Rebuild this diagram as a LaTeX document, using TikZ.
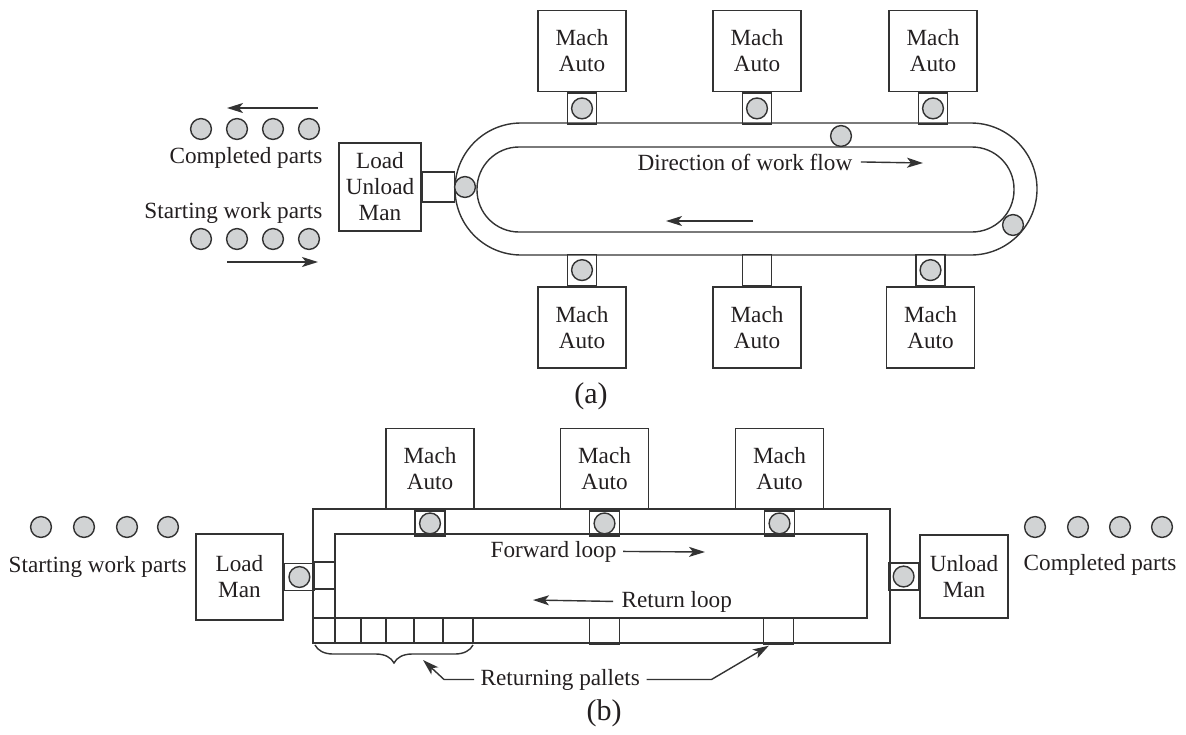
\documentclass[tikz,border=0pt]{standalone}
\usepackage{fontspec}
\setmainfont{Liberation Serif}
\usepackage{xcolor}
\usetikzlibrary{arrows.meta,positioning,decorations.pathreplacing}
\definecolor{ink}{HTML}{333333}
\definecolor{txt}{HTML}{231F20}
\definecolor{partgray}{HTML}{D1D3D4}

\begin{document}
\begin{tikzpicture}[
  x=0.5pt,y=-0.5pt,
  line width=0.7pt,color=ink,
  every node/.style={font=\fontsize{11.6}{13}\selectfont,text=txt},
  mach/.style={draw=ink,minimum width=44pt,minimum height=40.5pt,align=center,inner sep=0pt},
  man/.style={draw=ink,minimum width=43.5pt,minimum height=43pt,align=center,inner sep=0pt},
  feed/.style={draw=ink,minimum width=14.5pt,minimum height=15.5pt,inner sep=0pt},
  feedb/.style={draw=ink,minimum width=15pt,minimum height=12.5pt,inner sep=0pt},
  part/.style={circle,draw=ink,fill=partgray,minimum size=10.4pt,inner sep=0pt},
  pal/.style={draw=ink,minimum width=15pt,minimum height=12.5pt,inner sep=0pt},
  lbl/.style={inner sep=0pt},
  figcap/.style={inner sep=0pt,font=\fontsize{15}{17}\selectfont},
  thk/.style={line width=1.2pt},
  arr/.style={-{Stealth[length=8pt,width=5pt,inset=2pt]}},
  bigarr/.style={arr,line width=0.9pt}
]
\useasboundingbox (0,0) rectangle (1186,734);

% (a) rotary loop
\draw[rounded corners=33pt] (455,123) rectangle (1037,255);
\draw[rounded corners=21pt] (477,147) rectangle (1014,232);

\node[mach] (ma1) at (582,51) {Mach\\Auto};
\node[mach] (ma2) at (757,51) {Mach\\Auto};
\node[mach] (ma3) at (933,51) {Mach\\Auto};
\node[feed,below=0pt of ma1] (fa1) {};
\node[feed,below=0pt of ma2] (fa2) {};
\node[feed,below=0pt of ma3] (fa3) {};

\node[mach] (mb1) at (582,327.5) {Mach\\Auto};
\node[mach] (mb2) at (757,327.5) {Mach\\Auto};
\node[mach] (mb3) at (930.5,327.5) {Mach\\Auto};
\node[feed,above=0pt of mb1] (fb1) {};
\node[feed,above=0pt of mb2] (fb2) {};
\node[feed,above=0pt of mb3] (fb3) {};

\foreach \n in {fa1,fa2,fa3,fb1,fb3}
  \node[part] at (\n) {};

\node[man,minimum width=41pt,minimum height=44pt] (lu) at (380,187) {Load\\Unload\\Man};
\node[draw=ink,minimum width=16pt,minimum height=15pt,inner sep=0pt,right=0pt of lu] (luf) {};

\node[part] (pa1) at (465,187) {};
\node[part] (pa2) at (841,136) {};
\node[part] (pa3) at (1013,225) {};

\foreach \i/\x in {1/201,2/237,3/273,4/309}{
  \node[part] (cpa\i) at (\x,129) {};
  \node[part] (swa\i) at (\x,239) {};
}
\node[lbl,anchor=base east] (cpa) at (323,163) {Completed parts};
\node[lbl,anchor=base east] (swa) at (323,218) {Starting work parts};
\draw[bigarr] (318,108) -- (227,108);
\draw[bigarr] (227,262) -- (318,262);

\node[lbl,anchor=base west] (dwf) at (637,170) {Direction of work flow};
\draw[arr] ([xshift=4pt]dwf.east) -- (923,163);
\draw[arr] (753,221) -- (666,221);

\node[figcap] (capa) at (591,396) {(a)};

% (b) in-line loop
\draw (313,509) rectangle (890,643);
\draw (335,534) rectangle (867,618);

\node[mach] (mc1) at (430,469) {Mach\\Auto};
\node[mach] (mc2) at (604.5,469) {Mach\\Auto};
\node[mach] (mc3) at (779.5,469) {Mach\\Auto};
\node[feedb,below=0pt of mc1] (fc1) {};
\node[feedb,below=0pt of mc2] (fc2) {};
\node[feedb,below=0pt of mc3] (fc3) {};
\foreach \n in {fc1,fc2,fc3}
  \node[part] at (\n) {};

\node[man] (ld) at (239.5,577) {Load\\Man};
\node[draw=ink,minimum width=15pt,minimum height=13.5pt,inner sep=0pt,right=0pt of ld] (ldf) {};
\node[part] at (ldf) {};
\node[man,minimum width=44pt,minimum height=41.5pt] (ul) at (964,576.5) {Unload\\Man};
\node[draw=ink,minimum width=15pt,minimum height=13.5pt,inner sep=0pt,left=0pt of ul] (ulf) {};
\node[part] at (ulf) {};

\draw (313,562) rectangle (335,589);
\draw[thk] (313,589) rectangle (335,618);
\foreach \a/\b in {313/335,335/361,361/386,386/414,414/443,443/473}
  \draw (\a,618) rectangle (\b,643);
\draw[thk] (361,618) -- (361,643);
\node[pal] (pm) at (604.5,630.5) {};
\node[pal] (pr) at (778.5,630.5) {};
\draw[thk] (pm.south west) -- (pm.south east);
\draw[thk] (pr.south west) -- (pr.south east);

\foreach \i/\x in {1/41,2/84,3/127,4/168}
  \node[part] (swb\i) at (\x,527) {};
\foreach \i/\x in {1/1035,2/1078,3/1120,4/1162}
  \node[part] (cpb\i) at (\x,527) {};
\node[lbl,anchor=base west] (swb) at (8,572) {Starting work parts};
\node[lbl,anchor=base west] (cpb) at (1023,570) {Completed parts};

\node[lbl,anchor=base west] (fwd) at (490,557) {Forward loop};
\draw[arr] ([xshift=3pt]fwd.east) -- (705,552);
\node[lbl,anchor=base west] (ret) at (621,607) {Return loop};
\draw[arr] ([xshift=-4pt]ret.west) -- (533,600);

\draw[decorate,decoration={brace,mirror,amplitude=9pt}] (315,645) -- (473,645);
\node[lbl,anchor=base west] (rp) at (480,685) {Returning pallets};
\draw[arr] ([xshift=-3pt]rp.west) -- ++(-30,0) -- (423,660);
\draw[arr] ([xshift=3pt]rp.east) -- ++(65,0) -- ([xshift=3pt,yshift=-1pt]pr.south west);

\node[figcap] (capb) at (604,713) {(b)};
\end{tikzpicture}
\end{document}
